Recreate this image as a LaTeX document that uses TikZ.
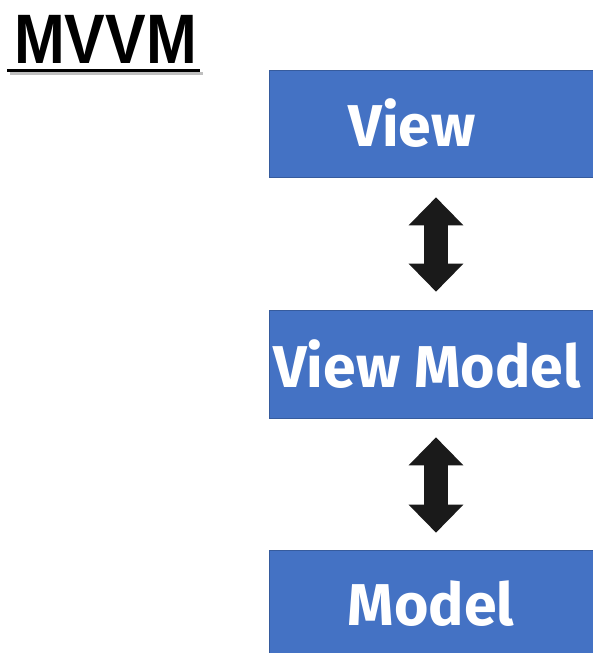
\documentclass[tikz,border=0pt]{standalone}
\usepackage{fontspec}
\setmainfont{Liberation Sans}
\newfontfamily\boxfont{Fira Sans}
\usetikzlibrary{arrows.meta}
\definecolor{mvvmblue}{HTML}{4472C4}
\definecolor{arrowblack}{HTML}{1A1A1A}
\tikzset{
    layerbox/.style={fill=mvvmblue, draw=mvvmblue!80!black, line width=0.6pt,
        minimum width=324pt, text=white, inner sep=0pt,
        font=\boxfont\bfseries\fontsize{59}{59}\selectfont},
    dblarrow/.style={draw=arrowblack, line width=24pt,
        {Triangle[width=53pt,length=28pt,fill=arrowblack]}-{Triangle[width=53pt,length=28pt,fill=arrowblack]}}
}
\begin{document}
\begin{tikzpicture}[x=1pt, y=-1pt]
    \useasboundingbox (0,0) rectangle (593,653);

    % Title and its underline (soft shadow under the rule)
    \draw[black!25, line width=3pt] (10,73) -- (203,73);
    \node (title) [anchor=base west, inner sep=0pt, xscale=0.87,
        font=\bfseries\fontsize{70}{70}\selectfont] at (14,63) {MVVM};
    \draw[line width=3pt] (7,70) -- (200,70);

    % The three layers
    \node (view)  [layerbox, minimum height=107pt] at (431,123.5) {View\hspace*{38pt}};
    \node (vm)    [layerbox, minimum height=108pt] at (431,364) {View Model\hspace*{8pt}};
    \node (model) [layerbox, minimum height=108pt] at (431,604) {Model};

    % Two-way links between layers
    \draw[dblarrow] ([shift={(5,20)}]view.south) -- ([shift={(5,-18)}]vm.north);
    \draw[dblarrow] ([shift={(5,19)}]vm.south) -- ([shift={(5,-17)}]model.north);
\end{tikzpicture}
\end{document}
